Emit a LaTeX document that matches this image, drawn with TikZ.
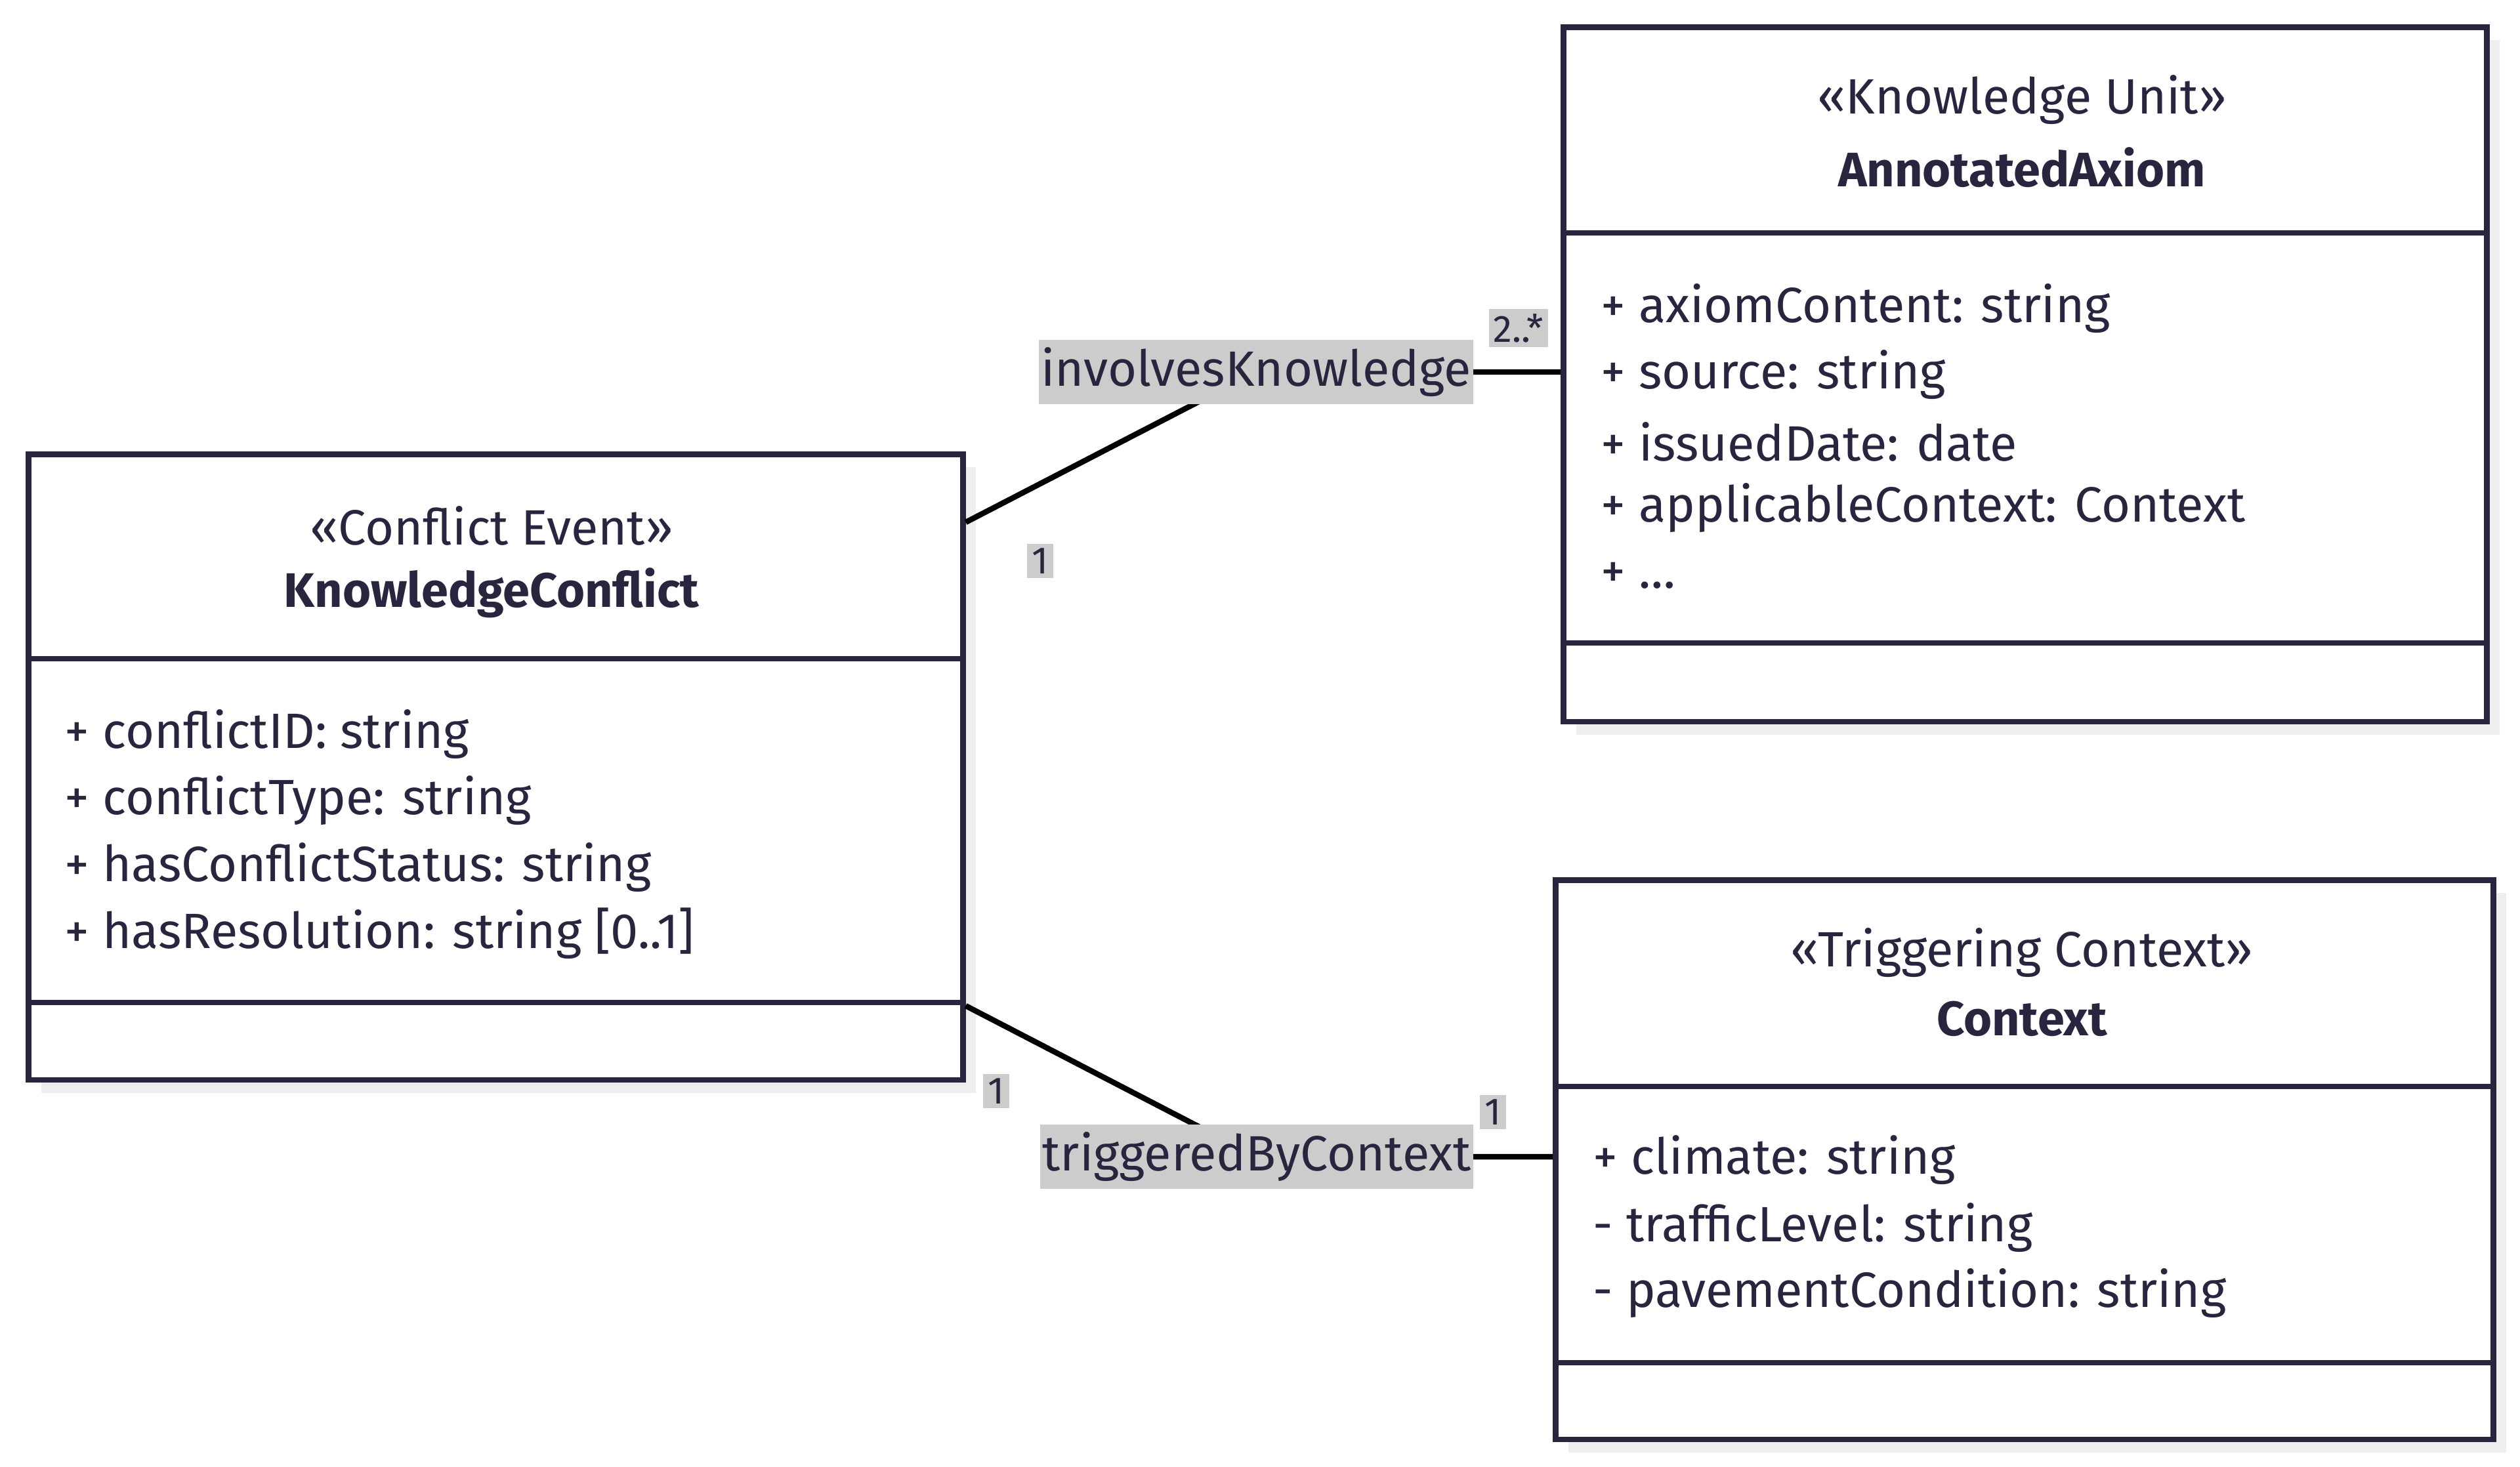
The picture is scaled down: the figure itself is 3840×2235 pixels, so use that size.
\documentclass[tikz,border=0pt]{standalone}
\usepackage{fontspec}
\setmainfont{Fira Sans}
\usetikzlibrary{calc,shadows}
\definecolor{umlink}{RGB}{39,38,62}
\definecolor{umlshade}{RGB}{238,238,238}
\definecolor{lblgray}{RGB}{204,204,204}
\tikzset{
  cls/.style={draw=umlink, line width=2.5pt, fill=white, anchor=north west, inner sep=0pt,
    drop shadow={shadow xshift=0.2cm, shadow yshift=-0.2cm, fill=umlshade, opacity=1}},
  sep/.style={draw=umlink, line width=2.5pt},
  attr/.style={anchor=west, text=umlink, inner sep=0pt, font=\fontsize{21.5}{26}\selectfont},
  stereo/.style={text=umlink, inner sep=0pt, font=\fontsize{21.5}{26}\selectfont},
  cname/.style={text=umlink, inner sep=0pt, font=\fontsize{21}{26}\selectfont\bfseries},
  assoc/.style={draw=black, line width=2.4pt},
  rel/.style={fill=lblgray, text=umlink, inner xsep=1pt, minimum height=0.96cm, font=\fontsize{21.5}{26}\selectfont},
  mult/.style={fill=lblgray, text=umlink, inner sep=2pt, font=\fontsize{16.5}{20}\selectfont}
}
\begin{document}
\begin{tikzpicture}[x=0.01cm,y=-0.01cm]
\useasboundingbox (0,0) rectangle (3840,2235);
% class boxes
\node[cls, minimum width=14.23cm, minimum height=9.53cm] (kc) at (39,688) {};
\node[cls, minimum width=14.06cm, minimum height=10.58cm] (aa) at (2378,37) {};
\node[cls, minimum width=14.28cm, minimum height=8.52cm] (ctx) at (2366,1337) {};
% compartments
\draw[sep] (kc.west |- 0,1004) -- (kc.east |- 0,1004);
\draw[sep] (kc.west |- 0,1528) -- (kc.east |- 0,1528);
\draw[sep] (aa.west |- 0,355) -- (aa.east |- 0,355);
\draw[sep] (aa.west |- 0,980) -- (aa.east |- 0,980);
\draw[sep] (ctx.west |- 0,1656) -- (ctx.east |- 0,1656);
\draw[sep] (ctx.west |- 0,2077) -- (ctx.east |- 0,2077);
% KnowledgeConflict
\node[stereo] (kc-st) at (749,801) {«Conflict Event»};
\node[cname] (kc-nm) at (749,904) {KnowledgeConflict};
\node[attr] (kc-a1) at (98,1119) {+ conflictID: string};
\node[attr] (kc-a2) at (98,1220) {+ conflictType: string};
\node[attr] (kc-a3) at (98,1322) {+ hasConflictStatus: string};
\node[attr] (kc-a4) at (98,1423) {+ hasResolution: string [0..1]};
% AnnotatedAxiom
\node[stereo] (aa-st) at (3081,152) {«Knowledge Unit»};
\node[cname] (aa-nm) at (3081,255) {AnnotatedAxiom};
\node[attr] (aa-a1) at (2439,470) {+ axiomContent: string};
\node[attr] (aa-a2) at (2439,571) {+ source: string};
\node[attr] (aa-a3) at (2439,673) {+ issuedDate: date};
\node[attr] (aa-a4) at (2439,774) {+ applicableContext: Context};
\node[attr] (aa-a5) at (2439,877) {+ \dots};
% Context
\node[stereo] (ctx-st) at (3081,1452) {«Triggering Context»};
\node[cname] (ctx-nm) at (3081,1553) {Context};
\node[attr] (ctx-a1) at (2427,1768) {+ climate: string};
\node[attr] (ctx-a2) at (2427,1871) {- trafficLevel: string};
\node[attr] (ctx-a3) at (2427,1971) {- pavementCondition: string};
% associations
\coordinate (inv) at (1914,567);
\coordinate (trg) at (1915,1763);
\draw[assoc] ($(kc.north east)+(0,108)$) -- (inv) -- (aa.west |- inv);
\draw[assoc] ($(kc.north east)+(0,845)$) -- (trg) -- (ctx.west |- trg);
\node[rel] (inv-lbl) at (inv) {involvesKnowledge};
\node[rel] (trg-lbl) at (trg) {triggeredByContext};
% multiplicities
\node[mult] (m1) at (1585,855) {1};
\node[mult] (m2) at (2314,500) {2..*};
\node[mult] (m3) at (1518,1663) {1};
\node[mult] (m4) at (2275,1695) {1};
\end{tikzpicture}
\end{document}
